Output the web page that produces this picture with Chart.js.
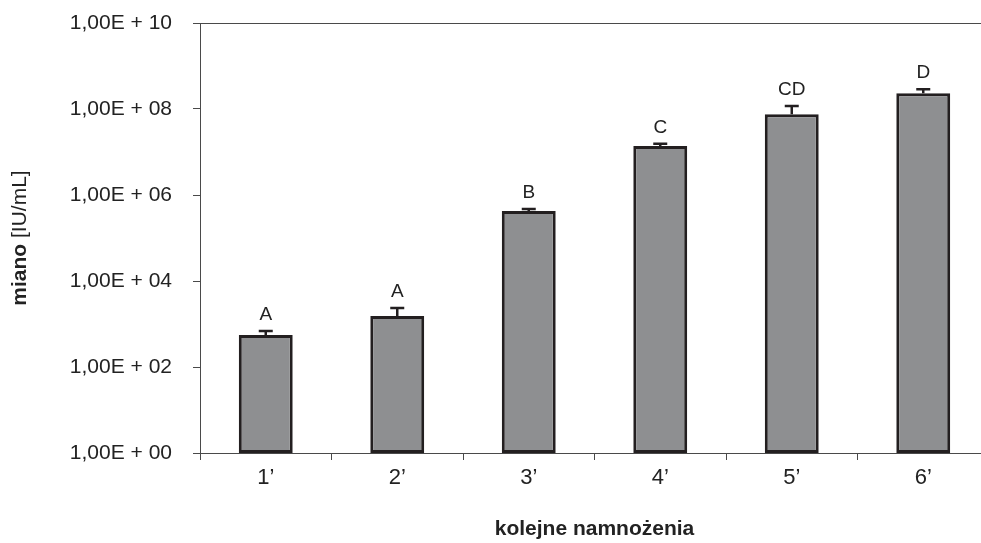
<!DOCTYPE html>
<html><head><meta charset="utf-8">
<script src="https://cdn.jsdelivr.net/npm/chart.js@4/dist/chart.umd.min.js"></script>
<style>html,body{margin:0;padding:0;overflow:hidden;background:#fff;width:981px;height:543px}canvas{display:block}</style>
</head><body>
<canvas id="c" width="1000" height="543" style="width:1000px;height:543px"></canvas>
<script>
const categories = ["1\u2019","2\u2019","3\u2019","4\u2019","5\u2019","6\u2019"];
const titerValues = [555, 1535, 4.25e5, 1.38e7, 7.5e7, 2.32e8];
const errorUpper = [690, 2355, 4.7e5, 1.56e7, 1.17e8, 2.87e8];
const letters = ["A","A","B","C","CD","D"];
const yTickExponents = [0,2,4,6,8,10];

const INK = '#231f20';
const AXIS = '#4a4a4a';

const overlay = {
  id: 'overlay',
  afterDatasetsDraw(chart) {
    const ctx = chart.ctx, y = chart.scales.y;
    const meta = chart.getDatasetMeta(0);
    ctx.save();
    ctx.strokeStyle = INK; ctx.lineWidth = 2.5;
    meta.data.forEach((bar, i) => {
      const yt = y.getPixelForValue(titerValues[i]);
      const ye = y.getPixelForValue(errorUpper[i]);
      ctx.beginPath();
      ctx.moveTo(bar.x, yt); ctx.lineTo(bar.x, ye);
      ctx.moveTo(bar.x - 7, ye); ctx.lineTo(bar.x + 7, ye);
      ctx.stroke();
      ctx.fillStyle = '#222';
      ctx.font = '19px "Liberation Sans", Arial, sans-serif';
      ctx.textAlign = 'center'; ctx.textBaseline = 'alphabetic';
      ctx.fillText(letters[i], bar.x, ye - 11);
    });
    const a = chart.chartArea;
    ctx.strokeStyle = AXIS; ctx.lineWidth = 1;
    ctx.beginPath();
    ctx.moveTo(a.left - 7, Math.round(a.top) + 0.5); ctx.lineTo(a.right, Math.round(a.top) + 0.5);
    ctx.stroke();
    ctx.fillStyle = '#222';
    ctx.translate(20, (a.top + a.bottom) / 2);
    ctx.rotate(-Math.PI / 2);
    ctx.textBaseline = 'middle'; ctx.textAlign = 'left';
    const fB = 'bold 21px "Liberation Sans", Arial, sans-serif';
    const fR = '21px "Liberation Sans", Arial, sans-serif';
    ctx.font = fB; const w1 = ctx.measureText('miano ').width;
    ctx.font = fR; const w2 = ctx.measureText('[IU/mL]').width;
    const sx = -(w1 + w2) / 2;
    ctx.font = fB; ctx.fillText('miano ', sx, 0);
    ctx.font = fR; ctx.fillText('[IU/mL]', sx + w1, 0);
    ctx.restore();
  }
};

new Chart(document.getElementById('c'), {
  type: 'bar',
  data: {
    labels: categories,
    datasets: [{
      data: titerValues,
      backgroundColor: '#8e8f91',
      borderColor: INK,
      borderWidth: 3,
      borderSkipped: false,
      barPercentage: 0.41,
      categoryPercentage: 1
    }]
  },
  options: {
    responsive: false,
    animation: false,
    layout: { padding: { left: 0, right: 11, top: 23, bottom: 0 } },
    plugins: { legend: { display: false }, tooltip: { enabled: false } },
    scales: {
      x: {
        offset: true,
        grid: { display: true, drawOnChartArea: false, offset: true, tickLength: 7, color: AXIS, lineWidth: 1 },
        border: { display: true, color: AXIS, width: 1 },
        ticks: { color: '#222', font: { size: 22, family: '"Liberation Sans", Arial, sans-serif' }, padding: 5 },
        title: { display: true, text: 'kolejne namnożenia', color: '#222',
                 font: { size: 21, weight: 'bold', family: '"Liberation Sans", Arial, sans-serif' },
                 padding: { top: 4, bottom: 1 } },
        afterFit(s) { s.height = 90; s.paddingLeft = 0; s.paddingRight = 0; }
      },
      y: {
        type: 'logarithmic',
        min: 1, max: 1e10,
        afterBuildTicks(s) { s.ticks = yTickExponents.map(e => ({ value: Math.pow(10, e), major: false })); },
        grid: { display: true, drawOnChartArea: false, tickLength: 7, color: AXIS, lineWidth: 1 },
        border: { display: true, color: AXIS, width: 1 },
        ticks: {
          color: '#222', padding: 21,
          font: { size: 21, family: '"Liberation Sans", Arial, sans-serif' },
          callback(v) {
            const e = Math.round(Math.log10(v));
            return '1,00E + ' + String(e).padStart(2, '0');
          }
        },
        afterFit(s) { s.width = 200; s.paddingTop = 0; s.paddingBottom = 0; }
      }
    }
  },
  plugins: [overlay]
});
</script>
</body></html>
